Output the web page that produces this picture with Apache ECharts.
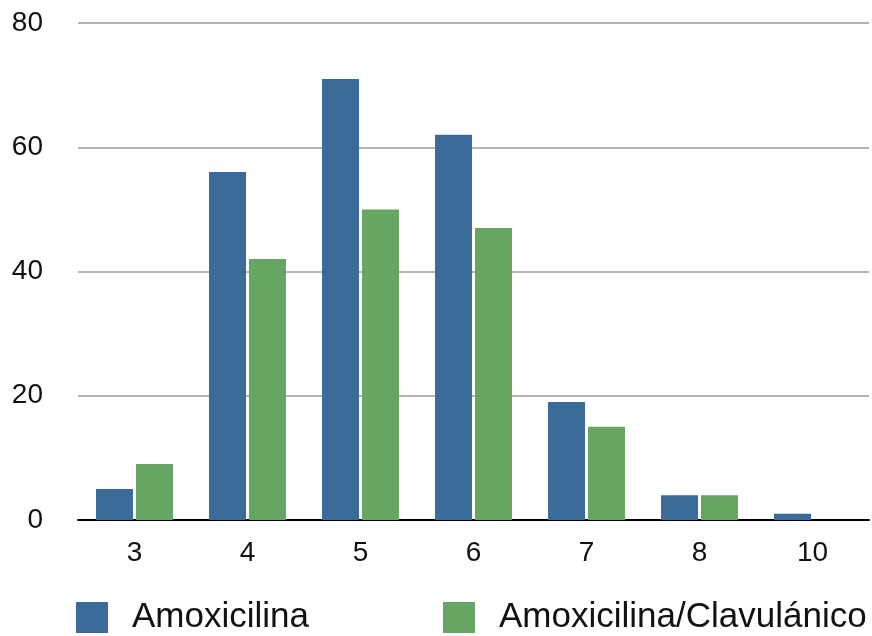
<!DOCTYPE html>
<html>
<head>
<meta charset="utf-8">
<script src="https://cdn.jsdelivr.net/npm/echarts@6/dist/echarts.min.js"></script>
<style>
  html, body { margin: 0; padding: 0; background: #fff; }
  #chart { width: 872px; height: 636px; }
</style>
</head>
<body>
<div id="chart"></div>
<script>
// Dose groups on the x axis and counts per treatment
const categories = ['3', '4', '5', '6', '7', '8', '10'];
const amoxicilina = [5, 56, 71, 62, 19, 4, 1];
const amoxClav = [9, 42, 50, 47, 15, 4, 0];
const seriesNames = ['Amoxicilina', 'Amoxicilina/Clavulánico'];

const FONT = '"Liberation Sans", Arial, Helvetica, sans-serif';
const chart = echarts.init(document.getElementById('chart'), null, { renderer: 'canvas' });

// One legend block per series so both sit on a single row
function legendFor(name, left) {
  return {
    data: [name],
    left: left,
    top: 600,
    padding: 0,
    itemWidth: 32,
    itemHeight: 31,
    icon: 'rect',
    selectedMode: false,
    textStyle: {
      fontFamily: FONT,
      fontSize: 35,
      color: '#111',
      padding: [0, 0, 0, 19]
    }
  };
}

chart.setOption({
  animation: false,
  backgroundColor: '#ffffff',
  grid: { left: 78, right: 3, top: 23, bottom: 116, containLabel: false },
  legend: [legendFor(seriesNames[0], 76), legendFor(seriesNames[1], 443)],
  xAxis: {
    type: 'category',
    data: categories,
    axisLine: { show: true, lineStyle: { color: '#000', width: 2 } },
    axisTick: { show: false },
    axisLabel: { fontFamily: FONT, fontSize: 28, color: '#111', margin: 19 },
    splitLine: { show: false }
  },
  yAxis: {
    type: 'value',
    min: 0,
    max: 80,
    interval: 20,
    axisLine: { show: false },
    axisTick: { show: false },
    axisLabel: { fontFamily: FONT, fontSize: 28, color: '#111', margin: 35, align: 'right' },
    splitLine: { show: true, lineStyle: { color: '#b4b4b4', width: 2 } }
  },
  series: [
    {
      name: seriesNames[0],
      type: 'bar',
      data: amoxicilina,
      barWidth: 37,
      barGap: '8%',
      itemStyle: { color: '#3a6b99' }
    },
    {
      name: seriesNames[1],
      type: 'bar',
      data: amoxClav,
      barWidth: 37,
      itemStyle: { color: '#67a562' }
    }
  ]
});
</script>
</body>
</html>
